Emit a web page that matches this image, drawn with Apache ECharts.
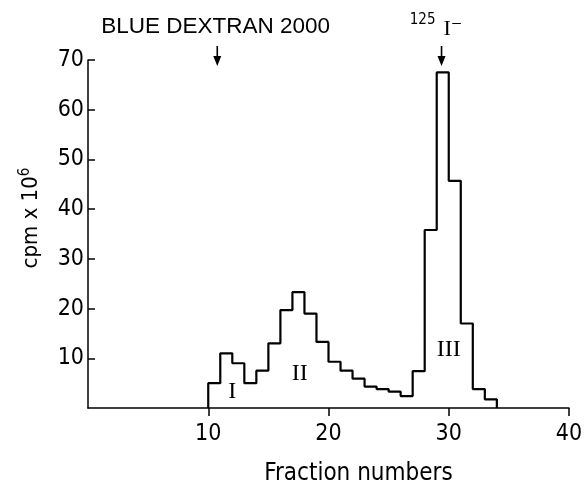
<!DOCTYPE html>
<html><head><meta charset="utf-8">
<script src="https://cdn.jsdelivr.net/npm/echarts@6/dist/echarts.min.js"></script>
<style>html,body{margin:0;padding:0;background:#fff}#c{width:586px;height:486px}</style>
</head><body><div id="c"></div>
<script>
// Fraction bins (left edge of each step) and cpm x 10^6
const fractions = [10,11,12,13,14,15,16,17,18,19,20,21,22,23,24,25,26,27,28,29,30,31,32,33];
const cpm = [5,11,9,5,7.5,13,19.7,23.3,19,13.3,9.3,7.5,5.9,4.3,3.8,3.3,2.4,7.4,35.8,67.5,45.7,17,3.8,1.75];
const endFraction = 34;
const xTicks = [10,20,30,40];
const yTicks = [10,20,30,40,50,60,70];
const peakLabels = ['I','II','III'];
const peakPos = [[12,3.2],[17.6,6.8],[30,11.7]];
const markerText = ['BLUE DEXTRAN 2000','125','I⁻'];
const markerX = [10.75, 29.4];

const FONT = '"DejaVu Sans Condensed","Liberation Sans Narrow","Liberation Sans",sans-serif';
const data = [[fractions[0],0]];
fractions.forEach((f,i)=>data.push([f,cpm[i]]));
data.push([endFraction,0]);

const chart = echarts.init(document.getElementById('c'));
chart.setOption({
  animation:false,
  backgroundColor:'#fff',
  grid:{left:88,right:17,top:60,bottom:78,outerBoundsMode:'none',containLabel:false},
  xAxis:{type:'value',min:0,max:40,interval:10,
    name:'Fraction numbers',nameLocation:'middle',nameGap:54,
    nameTextStyle:{fontFamily:FONT,fontSize:24,color:'#000',padding:[0,0,0,60]},
    axisLine:{lineStyle:{color:'#000',width:1.5}},
    axisTick:{show:true,customValues:xTicks,length:8,lineStyle:{color:'#000',width:1.5}},
    axisLabel:{customValues:xTicks,fontFamily:FONT,fontSize:23,color:'#000',margin:15},
    splitLine:{show:false}},
  yAxis:{type:'value',min:0,max:70,interval:10,
    name:'{a|cpm x 10}{s|6}',nameLocation:'middle',nameGap:43,nameRotate:90,
    nameTextStyle:{padding:[0,0,0,32],rich:{a:{fontFamily:FONT,fontSize:22,color:'#000'},s:{fontFamily:FONT,fontSize:15,color:'#000',verticalAlign:'top',padding:[0,0,12,0]}}},
    axisLine:{show:true,lineStyle:{color:'#000',width:1.5}},
    axisTick:{show:true,inside:true,customValues:yTicks,length:7,lineStyle:{color:'#000',width:1.5}},
    axisLabel:{customValues:yTicks,fontFamily:FONT,fontSize:23,color:'#000',margin:4},
    splitLine:{show:false}},
  series:[{type:'line',step:'end',data:data,symbol:'none',
    lineStyle:{color:'#000',width:2.2},z:5}]
});

function px(x,y){return chart.convertToPixel({gridIndex:0},[x,y]);}
const g = [];
peakLabels.forEach((t,i)=>{
  const p = px(peakPos[i][0],peakPos[i][1]);
  g.push({type:'text',x:p[0],y:p[1],style:{text:t,font:'24px "Liberation Serif","DejaVu Serif",serif',fill:'#000',align:'center',verticalAlign:'middle'}});
});
const a1 = px(markerX[0],70), a2 = px(markerX[1],70);
g.push({type:'text',x:a1[0]-116,y:27,style:{text:markerText[0],font:'22.5px "Liberation Sans",sans-serif',fill:'#000',align:'left',verticalAlign:'middle'}});
g.push({type:'text',x:a2[0]-6,y:20,style:{text:markerText[1],font:'15px '+FONT,fill:'#000',align:'right',verticalAlign:'middle'}});
g.push({type:'text',x:a2[0]+2,y:29,style:{text:markerText[2],font:'22px "Liberation Serif","DejaVu Serif",serif',fill:'#000',align:'left',verticalAlign:'middle'}});
[a1,a2].forEach(a=>{
  g.push({type:'line',shape:{x1:a[0],y1:46,x2:a[0],y2:62},style:{stroke:'#000',lineWidth:1.6}});
  g.push({type:'polygon',shape:{points:[[a[0]-4,56],[a[0]+4,56],[a[0],66]]},style:{fill:'#000'}});
});
chart.setOption({graphic:g});
</script></body></html>
